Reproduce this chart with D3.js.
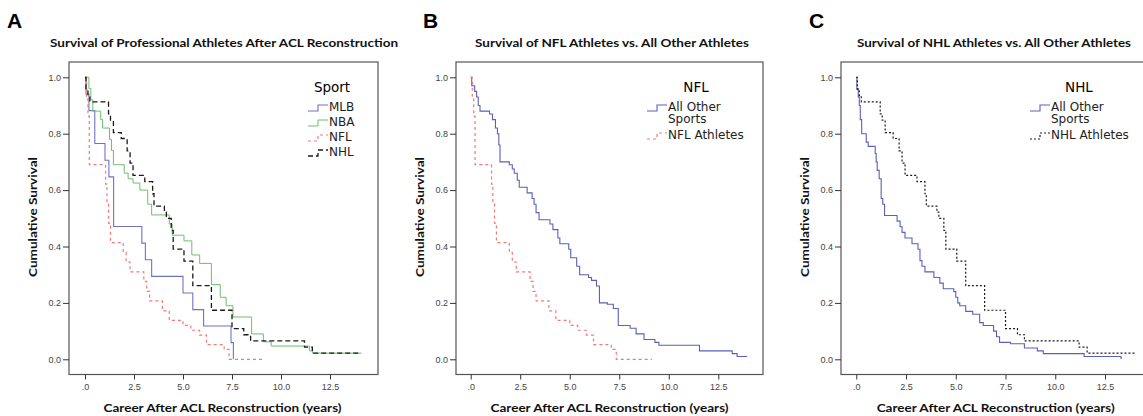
<!DOCTYPE html>
<html>
<head>
<meta charset="utf-8">
<script src="https://cdn.jsdelivr.net/npm/d3@7"></script>
<style>
  body { margin: 0; background: #fff; }
  svg { font-family: "DejaVu Sans", "Open Sans", sans-serif; }
  .tick text { fill: #444; font-size: 9px; }
  .tick line { stroke: #333; }
  .bold-label { font-family: Lato, "Open Sans", sans-serif; font-weight: bold; font-size: 11.5px; fill: #111; }
</style>
</head>
<body>
<div id="plot"></div>
<script>
// Kaplan-Meier step data (time in years, cumulative survival)
const mlbTime = [0, 0.05, 0.2, 0.5, 1.02, 1.22, 1.46, 2.9, 3.08, 3.4, 5.0, 5.5, 6.05, 7.45, 7.57];
const mlbSurv = [1, 0.941, 0.882, 0.765, 0.706, 0.647, 0.471, 0.412, 0.353, 0.294, 0.235, 0.176, 0.118, 0.059, 0];

const nbaTime = [0, 0.2, 0.3, 0.4, 0.8, 0.9, 1.25, 1.35, 1.45, 2.0, 2.2, 2.45, 2.8, 3.2, 3.4, 4.3, 4.45, 5.05, 5.45, 5.85, 6.45, 6.9, 7.2, 7.55, 8.5, 9.1, 9.5, 11.45, 11.6, 14.1];
const nbaSurv = [1, 0.96, 0.92, 0.88, 0.85, 0.82, 0.78, 0.74, 0.69, 0.66, 0.64, 0.625, 0.6, 0.55, 0.512, 0.48, 0.44, 0.42, 0.37, 0.34, 0.265, 0.22, 0.19, 0.15, 0.09, 0.062, 0.047, 0.03, 0.022, 0.022];

const nflTime = [0, 0.08, 0.15, 0.22, 1.05, 1.12, 1.2, 1.3, 1.95, 2.1, 2.3, 3.0, 3.15, 3.3, 3.95, 4.3, 5.0, 5.4, 5.85, 6.2, 7.1, 7.35, 9.15];
const nflSurv = [1, 0.931, 0.862, 0.69, 0.621, 0.552, 0.483, 0.414, 0.379, 0.345, 0.31, 0.276, 0.241, 0.207, 0.172, 0.138, 0.12, 0.103, 0.086, 0.052, 0.035, 0, 0];

const nhlTime = [0, 0.05, 0.15, 0.25, 1.2, 1.3, 1.45, 1.85, 2.15, 2.3, 2.45, 3.05, 3.45, 3.52, 4.05, 4.15, 4.4, 4.5, 5.05, 5.5, 6.45, 7.5, 8.1, 8.45, 11.2, 11.6, 14.0];
const nhlSurv = [1, 0.957, 0.935, 0.913, 0.87, 0.848, 0.804, 0.783, 0.739, 0.696, 0.652, 0.63, 0.587, 0.543, 0.522, 0.5, 0.457, 0.391, 0.348, 0.261, 0.174, 0.109, 0.087, 0.065, 0.043, 0.022, 0.022];

const otherNflTime = [0, 0.05, 0.2, 0.3, 0.38, 0.47, 0.95, 1.1, 1.25, 1.35, 1.42, 1.48, 1.95, 2.1, 2.2, 2.35, 2.45, 2.85, 3.1, 3.2, 3.3, 3.45, 4.0, 4.15, 4.4, 4.5, 4.95, 5.05, 5.35, 5.5, 5.95, 6.1, 6.35, 6.5, 6.9, 7.2, 7.45, 8.05, 8.35, 8.75, 9.3, 9.5, 11.55, 13.2, 13.45, 13.95];
const otherNflSurv = [1, 0.97, 0.95, 0.93, 0.9, 0.88, 0.87, 0.85, 0.82, 0.8, 0.76, 0.7, 0.69, 0.675, 0.66, 0.635, 0.61, 0.59, 0.57, 0.55, 0.52, 0.495, 0.48, 0.46, 0.43, 0.41, 0.39, 0.36, 0.33, 0.3, 0.29, 0.28, 0.26, 0.2, 0.195, 0.18, 0.12, 0.11, 0.09, 0.07, 0.06, 0.05, 0.03, 0.02, 0.01, 0.01];

const otherNhlTime = [0, 0.03, 0.1, 0.15, 0.2, 0.27, 0.5, 0.6, 0.95, 1.0, 1.05, 1.15, 1.25, 1.33, 1.42, 2.05, 2.2, 2.3, 2.45, 2.8, 3.1, 3.2, 3.3, 3.45, 3.9, 4.2, 4.37, 4.9, 5.0, 5.1, 5.2, 5.5, 5.85, 6.2, 6.38, 6.9, 7.05, 7.2, 7.75, 8.45, 9.1, 9.4, 11.45, 13.3, 13.35];
const otherNhlSurv = [1, 0.96, 0.93, 0.9, 0.85, 0.8, 0.77, 0.755, 0.73, 0.7, 0.67, 0.64, 0.57, 0.55, 0.51, 0.49, 0.47, 0.45, 0.43, 0.41, 0.39, 0.35, 0.33, 0.31, 0.29, 0.27, 0.25, 0.24, 0.22, 0.2, 0.19, 0.17, 0.16, 0.13, 0.12, 0.1, 0.08, 0.06, 0.055, 0.04, 0.03, 0.02, 0.01, 0.004, 0.004];

const xTicks = [0, 2.5, 5, 7.5, 10, 12.5];
const yTicks = [0, 0.2, 0.4, 0.6, 0.8, 1.0];

const pts = (t, s) => t.map((d, i) => [d, s[i]]);

const svg = d3.select("#plot").append("svg")
    .attr("width", 1143)
    .attr("height", 416);

// panel layout (frame edges and where the 0 / 12.5 ticks fall)
const panels = [
  {
    letter: "A", letterX: 7,
    title: "Survival of Professional Athletes After ACL Reconstruction", titleX: 224, titleW: 348,
    left: 69, right: 378, x0: 85, x1: 330, ylabX: 33,
    legendTitle: "Sport", legendX: 308,
    series: [
      { name: "MLB", data: pts(mlbTime, mlbSurv), color: "#6f73c6", dash: null, width: 1.1 },
      { name: "NBA", data: pts(nbaTime, nbaSurv), color: "#6cbf6c", dash: null, width: 1 },
      { name: "NFL", data: pts(nflTime, nflSurv), color: "#ee7a7a", dash: "3,3", width: 1.2 },
      { name: "NHL", data: pts(nhlTime, nhlSurv), color: "#1a1a1a", dash: "5,3", width: 1.3 }
    ]
  },
  {
    letter: "B", letterX: 423,
    title: "Survival of NFL Athletes vs. All Other Athletes", titleX: 612, titleW: 274,
    left: 456, right: 763, x0: 470.7, x1: 718.3, ylabX: 420,
    legendTitle: "NFL", legendX: 647,
    series: [
      { name: ["All Other", "Sports"], data: pts(otherNflTime, otherNflSurv), color: "#5a61b6", dash: null, width: 1.1 },
      { name: "NFL Athletes", data: pts(nflTime, nflSurv), color: "#ee7a7a", dash: "3,3", width: 1.2 }
    ]
  },
  {
    letter: "C", letterX: 809,
    title: "Survival of NHL Athletes vs. All Other Athletes", titleX: 994, titleW: 274,
    left: 841, right: 1150, x0: 856.3, x1: 1105, ylabX: 805,
    legendTitle: "NHL", legendX: 1030,
    series: [
      { name: ["All Other", "Sports"], data: pts(otherNhlTime, otherNhlSurv), color: "#5a61b6", dash: null, width: 1.1 },
      { name: "NHL Athletes", data: pts(nhlTime, nhlSurv), color: "#1a1a1a", dash: "2,2", width: 1.2 }
    ]
  }
];

const frameTop = 62, frameBottom = 374.5;
const y = d3.scaleLinear().domain([0, 1]).range([359.3, 77.3]);

panels.forEach(p => {
  const g = svg.append("g");
  const x = d3.scaleLinear().domain([0, 12.5]).range([p.x0, p.x1]);

  // panel letter
  g.append("text")
      .attr("x", p.letterX).attr("y", 28)
      .attr("font-family", "Liberation Sans, Arial, sans-serif")
      .attr("font-size", "21px").attr("font-weight", "bold")
      .text(p.letter);

  // title
  g.append("text")
      .attr("class", "bold-label")
      .attr("x", p.titleX).attr("y", 47)
      .attr("text-anchor", "middle")
      .attr("textLength", p.titleW).attr("lengthAdjust", "spacingAndGlyphs")
      .text(p.title);

  // frame
  g.append("rect")
      .attr("x", p.left).attr("y", frameTop)
      .attr("width", p.right - p.left).attr("height", frameBottom - frameTop)
      .attr("fill", "none").attr("stroke", "#555").attr("stroke-width", 1.2);

  // axes
  g.append("g")
      .attr("transform", `translate(${p.left},0)`)
      .call(d3.axisLeft(y).tickValues(yTicks).tickSize(6).tickPadding(2).tickFormat(d3.format(".1f")))
      .call(a => a.select(".domain").remove());

  g.append("g")
      .attr("transform", `translate(0,${frameBottom})`)
      .call(d3.axisBottom(x).tickValues(xTicks).tickSize(5).tickPadding(4)
          .tickFormat(d => d === 0 ? ".0" : d3.format(".1f")(d)))
      .call(a => a.select(".domain").remove());

  // axis titles
  g.append("text")
      .attr("class", "bold-label")
      .attr("x", (p.x0 + p.x1) / 2 + 15).attr("y", 412)
      .attr("text-anchor", "middle")
      .attr("textLength", 238).attr("lengthAdjust", "spacingAndGlyphs")
      .text("Career After ACL Reconstruction (years)");

  g.append("text")
      .attr("class", "bold-label")
      .attr("transform", `translate(${p.ylabX + 4},217) rotate(-90)`)
      .attr("text-anchor", "middle")
      .attr("textLength", 120).attr("lengthAdjust", "spacingAndGlyphs")
      .text("Cumulative Survival");

  // survival curves
  const line = d3.line()
      .x(d => x(d[0]))
      .y(d => y(d[1]))
      .curve(d3.curveStepAfter);

  p.series.forEach(s => {
    g.append("path")
        .datum(s.data)
        .attr("fill", "none")
        .attr("stroke", s.color)
        .attr("stroke-width", s.width)
        .attr("stroke-dasharray", s.dash)
        .attr("d", line);
  });

  // legend
  const lg = g.append("g").attr("transform", `translate(${p.legendX},0)`);
  lg.append("text")
      .attr("x", p.legendTitle === "Sport" ? 24 : 49).attr("y", 92)
      .attr("text-anchor", "middle")
      .attr("font-size", "13.5px")
      .text(p.legendTitle);

  let rowY = 107;
  p.series.forEach(s => {
    const lines = Array.isArray(s.name) ? s.name : [s.name];
    const sample = [[0, rowY + 4], [10, rowY + 4], [10, rowY - 2], [20, rowY - 2]];
    lg.append("path")
        .attr("d", d3.line()(sample))
        .attr("fill", "none")
        .attr("stroke", s.color)
        .attr("stroke-width", s.width)
        .attr("stroke-dasharray", s.dash);
    lines.forEach((t, i) => {
      lg.append("text")
          .attr("x", 21).attr("y", rowY + 4 + i * 12)
          .attr("font-size", "12px")
          .attr("fill", "#222")
          .text(t);
    });
    rowY += lines.length > 1 ? 28 : 15;
  });
});
</script>
</body>
</html>
